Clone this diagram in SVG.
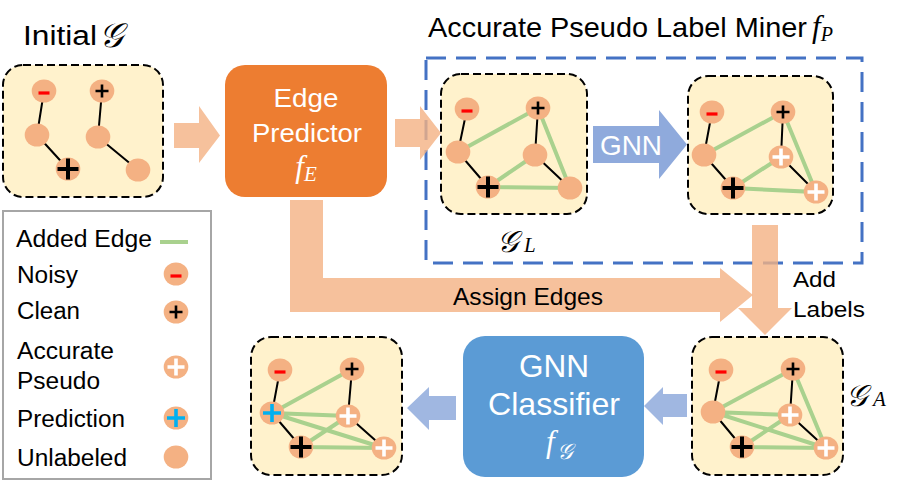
<svg xmlns="http://www.w3.org/2000/svg" width="907" height="493" viewBox="0 0 907 493">
<style>
.t{font-family:"Liberation Sans",Arial,sans-serif;fill:#000}
.w{font-family:"Liberation Sans",Arial,sans-serif;fill:#fff}
.m{font-family:"Liberation Serif","Times New Roman",serif;font-style:italic}
.sc{font-family:"DejaVu Serif","DejaVu Sans","Noto Sans",serif}
.gb{fill:#FFF2CC;stroke:#000;stroke-width:2;stroke-dasharray:8 4}
.be{stroke:#000;stroke-width:2;fill:none}
.ge{stroke:#A9D18E;stroke-width:4;fill:none}
.oa{fill:#F4B183;fill-opacity:0.8}
.ba{fill:#8FAADC}
.ba2{fill:#8FAADC;fill-opacity:0.85}
</style>
<defs>
<ellipse id="nd" rx="12.3" ry="11.5" fill="#F4B183"/>
<rect id="mn" x="-5.5" y="0.4" width="11" height="3.2" fill="#F00"/>
<path id="pS" d="M-6.5,0H6.5M0,-6.5V6.5" stroke="#000" stroke-width="2.6"/>
<path id="pB" d="M-10.5,0H10.5M0,-10.5V10.5" stroke="#000" stroke-width="4"/>
<path id="pW" d="M-8.5,0H8.5M0,-8.5V8.5" stroke="#fff" stroke-width="3.6"/>
<path id="pC" d="M-9,0H9M0,-9V9" stroke="#00B0F0" stroke-width="3.6"/>
</defs>
<rect width="907" height="493" fill="#fff"/>

<!-- Initial graph -->
<g id="initial-graph">
<text class="t" x="23" y="45" font-size="27" textLength="74" lengthAdjust="spacingAndGlyphs">Initial</text>
<text class="sc" x="99" y="47" font-size="34" font-style="italic">𝒢</text>
<rect class="gb" x="3" y="65" width="160" height="132" rx="20"/>
<path class="be" d="M44,91L37,135M102,91L98,137M37,135L68,169M98,137L138,170"/>
<use href="#nd" x="44" y="91"/><use href="#mn" x="44" y="91"/>
<use href="#nd" x="102" y="91"/><use href="#pS" x="102" y="91"/>
<use href="#nd" x="37" y="135"/>
<use href="#nd" x="98" y="137"/>
<use href="#nd" x="68" y="169"/><use href="#pB" x="68" y="169"/>
<use href="#nd" x="138" y="170"/>
</g>

<!-- Edge predictor -->
<g id="edge-predictor">
<rect x="225" y="65" width="162" height="132" rx="20" fill="#ED7D31"/>
<text class="w" x="306" y="107" font-size="26.5" text-anchor="middle" textLength="65" lengthAdjust="spacingAndGlyphs">Edge</text>
<text class="w" x="307" y="142" font-size="26.5" text-anchor="middle" textLength="110" lengthAdjust="spacingAndGlyphs">Predictor</text>
<text class="m" x="306" y="177" font-size="31" fill="#fff" text-anchor="middle">f<tspan font-size="21" dy="4">E</tspan></text>
</g>

<!-- Miner -->
<g id="pseudo-label-miner">
<rect x="426" y="58" width="436" height="205" fill="none" stroke="#4472C4" stroke-width="3" stroke-dasharray="20 10"/>
<text class="t" x="428" y="37" font-size="28" textLength="379" lengthAdjust="spacingAndGlyphs">Accurate Pseudo Label Miner</text>
<text class="m" x="812" y="37" font-size="31">f<tspan font-size="20" dy="4">P</tspan></text>
</g>

<!-- G_L -->
<g id="graph-L">
<rect class="gb" x="441" y="74" width="146" height="140" rx="20"/>
<path class="be" d="M467,109L458,152M538,108L535,155M458,152L488,187M535,155L570,188"/>
<path class="ge" d="M458,152L538,108L570,188L488,187L535,155"/>
<use href="#nd" x="467" y="109"/><use href="#mn" x="467" y="109"/>
<use href="#nd" x="538" y="108"/><use href="#pS" x="538" y="108"/>
<use href="#nd" x="458" y="152"/>
<use href="#nd" x="535" y="155"/>
<use href="#nd" x="488" y="187"/><use href="#pB" x="488" y="187"/>
<use href="#nd" x="570" y="188"/>
<text class="sc" x="497" y="252" font-size="30" font-style="italic">𝒢</text>
<text class="m" x="524" y="252" font-size="21">L</text>
</g>

<!-- G after GNN -->
<g id="graph-pseudo">
<rect class="gb" x="688" y="76" width="145" height="138" rx="20"/>
<path class="be" d="M712,112L704,155M783,112L781,157M704,155L733,188M781,157L816,192"/>
<path class="ge" d="M704,155L783,112L816,192L733,188L781,157"/>
<use href="#nd" x="712" y="112"/><use href="#mn" x="712" y="112"/>
<use href="#nd" x="783" y="112"/><use href="#pS" x="783" y="112"/>
<use href="#nd" x="704" y="155"/>
<use href="#nd" x="781" y="157"/><use href="#pW" x="781" y="157"/>
<use href="#nd" x="733" y="188"/><use href="#pB" x="733" y="188"/>
<use href="#nd" x="816" y="192"/><use href="#pW" x="816" y="192"/>
</g>

<!-- G_A -->
<g id="graph-A">
<rect class="gb" x="692" y="337" width="151" height="138" rx="20"/>
<path class="be" d="M721,370L713,412M793,369L790,415M713,412L742,447M790,415L826,448"/>
<path class="ge" d="M713,412L793,369L826,448M713,412L790,415M713,412L826,448M742,447L790,415M742,447L826,448"/>
<use href="#nd" x="721" y="370"/><use href="#mn" x="721" y="370"/>
<use href="#nd" x="793" y="369"/><use href="#pS" x="793" y="369"/>
<use href="#nd" x="713" y="412"/>
<use href="#nd" x="790" y="415"/><use href="#pW" x="790" y="415"/>
<use href="#nd" x="742" y="447"/><use href="#pB" x="742" y="447"/>
<use href="#nd" x="826" y="448"/><use href="#pW" x="826" y="448"/>
<text class="sc" x="846" y="406" font-size="30" font-style="italic">𝒢</text>
<text class="m" x="873" y="406" font-size="21">A</text>
</g>

<!-- GNN classifier -->
<g id="gnn-classifier">
<rect x="463" y="336" width="181" height="141" rx="22" fill="#5B9BD5"/>
<text class="w" x="554" y="377" font-size="30.5" text-anchor="middle" textLength="70" lengthAdjust="spacingAndGlyphs">GNN</text>
<text class="w" x="554" y="415" font-size="30.5" text-anchor="middle" textLength="132" lengthAdjust="spacingAndGlyphs">Classifier</text>
<text class="m" x="546" y="452" font-size="31" fill="#fff">f</text>
<text class="sc" x="557" y="459" font-size="22" font-style="italic" fill="#fff">𝒢</text>
</g>

<!-- Final graph -->
<g id="graph-final">
<rect class="gb" x="251" y="337" width="151" height="138" rx="20"/>
<path class="be" d="M280,370L272,413M352,369L348,416M272,413L301,447M348,416L384,448"/>
<path class="ge" d="M272,413L352,369M272,413L348,416M272,413L384,448M301,447L348,416M301,447L384,448"/>
<use href="#nd" x="280" y="370"/><use href="#mn" x="280" y="370"/>
<use href="#nd" x="352" y="369"/><use href="#pS" x="352" y="369"/>
<use href="#nd" x="272" y="413"/><use href="#pC" x="272" y="413"/>
<use href="#nd" x="348" y="416"/><use href="#pW" x="348" y="416"/>
<use href="#nd" x="301" y="447"/><use href="#pB" x="301" y="447"/>
<use href="#nd" x="384" y="448"/><use href="#pW" x="384" y="448"/>
</g>

<!-- Legend -->
<g id="legend">
<rect x="3" y="211" width="208" height="268" fill="#fff" stroke="#A6A6A6" stroke-width="2"/>
<text class="t" x="16" y="247" font-size="23.5" textLength="136" lengthAdjust="spacingAndGlyphs">Added Edge</text>
<path class="ge" d="M160,242H188"/>
<text class="t" x="17" y="282.5" font-size="23.5" textLength="61" lengthAdjust="spacingAndGlyphs">Noisy</text>
<use href="#nd" x="176" y="274"/><use href="#mn" x="176" y="274"/>
<text class="t" x="17" y="319" font-size="23.5" textLength="63" lengthAdjust="spacingAndGlyphs">Clean</text>
<use href="#nd" x="176" y="312"/><use href="#pS" x="176" y="312"/>
<text class="t" x="17" y="359" font-size="23.5" textLength="97" lengthAdjust="spacingAndGlyphs">Accurate</text>
<text class="t" x="17" y="389" font-size="23.5" textLength="83" lengthAdjust="spacingAndGlyphs">Pseudo</text>
<use href="#nd" x="176" y="367"/><use href="#pW" x="176" y="367"/>
<text class="t" x="17" y="427" font-size="23.5" textLength="108" lengthAdjust="spacingAndGlyphs">Prediction</text>
<use href="#nd" x="176" y="418"/><use href="#pC" x="176" y="418"/>
<text class="t" x="17" y="465.5" font-size="23.5" textLength="110" lengthAdjust="spacingAndGlyphs">Unlabeled</text>
<use href="#nd" x="176" y="457"/>
</g>

<!-- Connectors -->
<g id="connectors">
<polygon class="oa" points="174,123 199,123 199,106 220,135.5 199,163 199,148 174,148"/>
<polygon class="oa" points="395,119 420,119 420,106 441,133 420,160 420,147 395,147"/>
<polygon class="ba" points="593,126 659,126 659,110 687,144.5 659,179 659,163 593,163"/>
<text class="w" x="600" y="155" font-size="28" textLength="62" lengthAdjust="spacingAndGlyphs">GNN</text>
<polygon class="oa" points="290,200 323,200 323,278 720,278 720,268 753,295 720,322 720,312 290,312"/>
<text class="t" x="453" y="305" font-size="24" textLength="150" lengthAdjust="spacingAndGlyphs">Assign Edges</text>
<polygon class="oa" points="752,225 778,225 778,308 792,308 765,335 738,308 752,308"/>
<text class="t" x="793" y="287" font-size="22" textLength="43" lengthAdjust="spacingAndGlyphs">Add</text>
<text class="t" x="793" y="317" font-size="22" textLength="72" lengthAdjust="spacingAndGlyphs">Labels</text>
<polygon class="ba2" points="687,394 663,394 663,387 644,406 663,425 663,417 687,417"/>
<polygon class="ba2" points="456,396 429,396 429,387 407,408 429,430 429,420 456,420"/>
</g>
</svg>
